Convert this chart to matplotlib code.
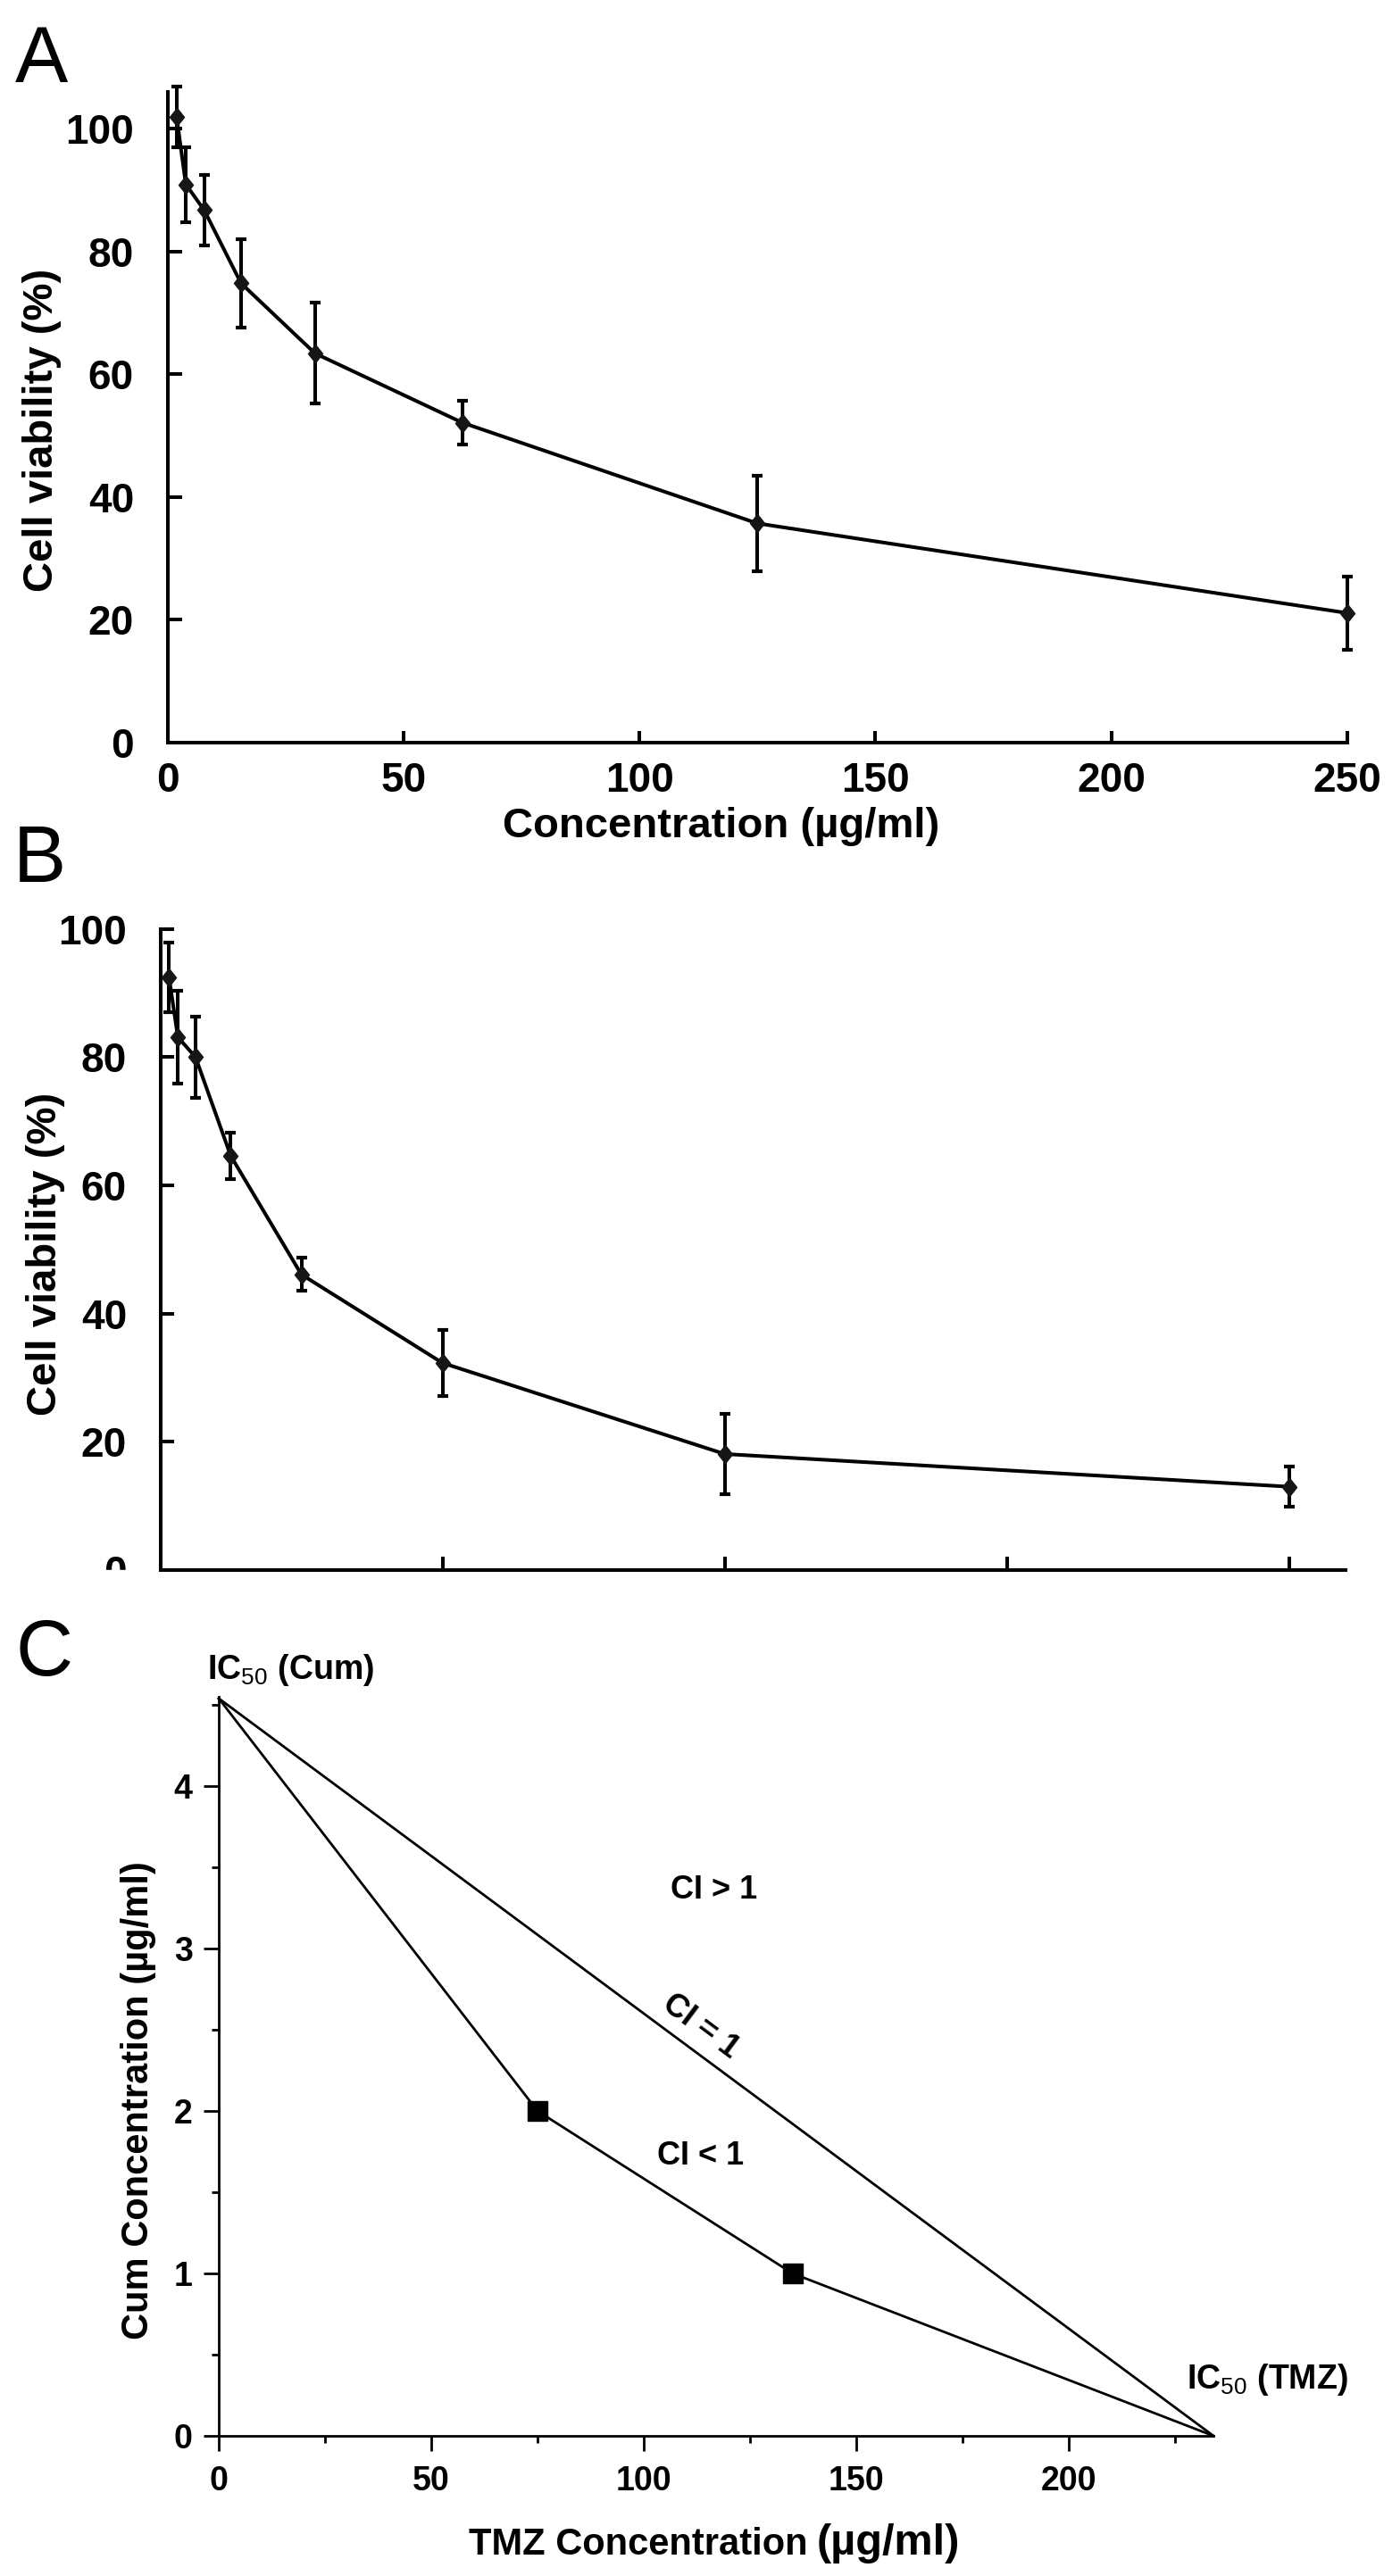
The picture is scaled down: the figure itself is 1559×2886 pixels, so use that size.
import numpy as np
import matplotlib.pyplot as plt
from matplotlib.patches import Rectangle
from matplotlib.path import Path

plt.rcParams['font.family'] = ['Liberation Sans', 'DejaVu Sans']
plt.rcParams['mathtext.fontset'] = 'custom'
plt.rcParams['mathtext.rm'] = 'Liberation Sans'
plt.rcParams['mathtext.bf'] = 'Liberation Sans:bold'

# A / B: dose response (mean +- SD)
conc = [1.95, 3.9, 7.8, 15.6, 31.25, 62.5, 125, 250]
viab_a = [101.9, 90.9, 86.7, 74.8, 63.4, 52.1, 35.7, 21.1]
err_a = [5.0, 6.1, 5.7, 7.2, 8.2, 3.6, 7.8, 6.0]
viab_b = [92.4, 83.1, 80.0, 64.6, 46.1, 32.3, 18.1, 13.0]
err_b = [5.4, 7.2, 6.3, 3.6, 2.6, 5.1, 6.2, 3.1]

# C: isobologram
ic50_tmz = 234
ic50_cum = 4.54
tmz_combo = [75, 135]
cum_combo = [2.0, 1.0]

W, H = 1559, 2886
fig = plt.figure(figsize=(W / 100, H / 100), dpi=100, facecolor='white')


def px_rect(left, top, right, bottom):
    return [left / W, 1 - bottom / H, (right - left) / W, (bottom - top) / H]


# slightly tall diamond marker
diamond = Path([(0, 1), (0.8, 0), (0, -1), (-0.8, 0), (0, 1)])


def style_curve_axes(ax, ytick_len, xtick_len):
    for s in ['top', 'right']:
        ax.spines[s].set_visible(False)
    for s in ['left', 'bottom']:
        ax.spines[s].set_linewidth(2.9)
    ax.tick_params(axis='y', direction='in', length=ytick_len, width=2.9,
                   labelsize=33, pad=27)
    ax.tick_params(axis='x', direction='in', length=xtick_len, width=2.9,
                   labelsize=33, pad=15)
    for lab in ax.get_xticklabels() + ax.get_yticklabels():
        lab.set_fontweight('bold')


def draw_curve(ax, y, yerr):
    ax.errorbar(conc, y, yerr=yerr, color='black', lw=2.9, elinewidth=2.9,
                capsize=4.2, capthick=3, marker=diamond, ms=14.5,
                mfc='#161616', mec='#161616', zorder=3, clip_on=False)


# ---- panel A ----
axA = fig.add_axes(px_rect(187.5, 102.7, 1509, 832))
draw_curve(axA, viab_a, err_a)
axA.set_xlim(0, 250)
axA.set_ylim(0, 106)
axA.set_xticks([0, 50, 100, 150, 200, 250])
axA.set_yticks([0, 20, 40, 60, 80, 100])
style_curve_axes(axA, 11.5, 9.5)
fig.text(808 / W, 1 - 938 / H, 'Concentration (µg/ml)', fontsize=34,
         fontweight='bold', ha='center', va='baseline')
fig.text(47 / W, 1 - 482 / H, 'Cell viability (%)', fontsize=34,
         fontweight='bold', rotation=90, ha='center', va='center')

# ---- panel B ----
axB = fig.add_axes(px_rect(179.5, 1040.6, 1507, 1759))
draw_curve(axB, viab_b, err_b)
axB.set_xlim(0, 262.5)
axB.set_ylim(0, 100)
axB.set_xticks([62.5, 125, 187.5, 250])
axB.set_xticklabels([])
axB.set_yticks([0, 20, 40, 60, 80, 100])
style_curve_axes(axB, 11, 11)
fig.text(51 / W, 1 - 1405 / H, 'Cell viability (%)', fontsize=34,
         fontweight='bold', rotation=90, ha='center', va='center')
# bottom of panel B is cropped in the original figure
fig.add_artist(Rectangle((0, 1 - 1805 / H), 172 / W, (1805 - 1759) / H,
                         transform=fig.transFigure, color='white', zorder=10))

# ---- panel C ----
axC = fig.add_axes(px_rect(245, 1901, 1359, 2729))
axC.plot([0, ic50_tmz], [ic50_cum, 0], color='black', lw=2, clip_on=False)
axC.plot([0] + tmz_combo + [ic50_tmz], [ic50_cum] + cum_combo + [0],
         color='black', lw=2, clip_on=False)
axC.plot(tmz_combo, cum_combo, 's', color='black', ms=15.5, zorder=4)
axC.set_xlim(0, ic50_tmz)
axC.set_ylim(0, 4.55)
for s in ['top', 'right']:
    axC.spines[s].set_visible(False)
for s in ['left', 'bottom']:
    axC.spines[s].set_linewidth(2)
axC.set_xticks([0, 50, 100, 150, 200])
axC.set_xticks([25, 75, 125, 175, 225], minor=True)
axC.set_yticks([0, 1, 2, 3, 4])
axC.set_yticks([0.5, 1.5, 2.5, 3.5, 4.5], minor=True)
axC.tick_params(which='major', direction='out', length=12, width=2,
                labelsize=27)
axC.tick_params(which='minor', direction='out', length=6, width=2)
axC.tick_params(axis='x', pad=12)
axC.tick_params(axis='y', pad=9)
for lab in axC.get_xticklabels() + axC.get_yticklabels():
    lab.set_fontweight('bold')

axC.text(-2.7, 4.66, r'IC$_{\mathrm{50}}$ (Cum)', fontsize=27,
         fontweight='bold', ha='left', va='baseline')
axC.text(227.7, 0.29, r'IC$_{\mathrm{50}}$ (TMZ)', fontsize=27,
         fontweight='bold', ha='left', va='baseline')
axC.text(116.4, 3.31, 'CI > 1', fontsize=26, fontweight='bold',
         ha='center', va='baseline')
axC.text(113.4, 1.67, 'CI < 1', fontsize=26, fontweight='bold',
         ha='center', va='baseline')
axC.text(113.4, 2.52, 'CI = 1', fontsize=26, fontweight='bold',
         ha='center', va='center', rotation=-36.6, rotation_mode='anchor')

fig.text(905 / W, 1 - 2862 / H, 'TMZ Concentration', fontsize=30,
         fontweight='bold', ha='right', va='baseline')
fig.text(915 / W, 1 - 2862 / H, '(µg/ml)', fontsize=35,
         fontweight='bold', ha='left', va='baseline')
fig.text(155 / W, 1 - 2353 / H, 'Cum Concentration (µg/ml)', fontsize=30,
         fontweight='bold', rotation=90, ha='center', va='center')

# panel letters
fig.text(17 / W, 1 - 27 / H, 'A', fontsize=64, ha='left', va='top')
fig.text(15 / W, 1 - 923 / H, 'B', fontsize=64, ha='left', va='top')
fig.text(18 / W, 1 - 1812 / H, 'C', fontsize=64, ha='left', va='top')

fig.savefig('out.png', dpi=100, facecolor='white')
